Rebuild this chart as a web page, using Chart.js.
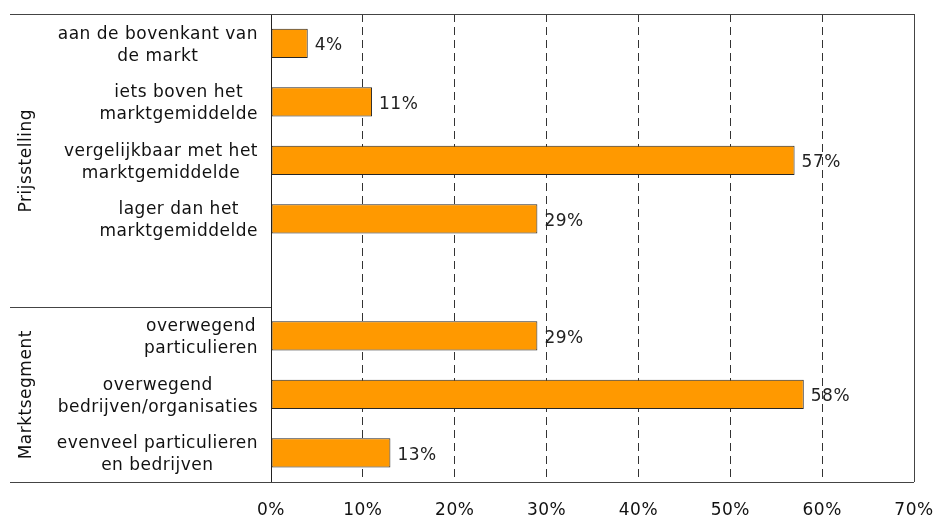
<!DOCTYPE html>
<html>
<head>
<meta charset="utf-8">
<script src="https://cdn.jsdelivr.net/npm/chart.js@4.4.1/dist/chart.umd.min.js"></script>
<style>
  html, body { margin: 0; padding: 0; background: #fff; }
  #wrap { width: 936px; height: 517px; position: relative; }
</style>
</head>
<body>
<div id="wrap"><canvas id="c"></canvas></div>
<script>
// Answer categories (each entry is one label, split into lines); '' is the spacer row between groups
const categories = [
  ['aan de bovenkant van', 'de markt'],
  ['iets boven het', 'marktgemiddelde'],
  ['vergelijkbaar met het', 'marktgemiddelde'],
  ['lager dan het', 'marktgemiddelde'],
  [''],
  ['overwegend', 'particulieren'],
  ['overwegend', 'bedrijven/organisaties'],
  ['evenveel particulieren', 'en bedrijven']
];
// Share of respondents per category (%)
const shares = [4, 11, 57, 29, null, 29, 58, 13];
// Group titles with the range of rows they cover
const groupNames = ['Prijsstelling', 'Marktsegment'];
const groupRows = [[0, 4], [5, 7]];
// Horizontal axis ticks (%)
const xTicks = [0, 10, 20, 30, 40, 50, 60, 70];

const FONT = 'DejaVu Sans, Verdana, sans-serif';
const FONT_SIZE = 17;
const SPACING = '0.5px';
const LINE = '#444';

const decorations = {
  id: 'decorations',
  beforeDraw(chart) {
    chart.ctx.letterSpacing = SPACING;
  },
  afterDraw(chart) {
    const ctx = chart.ctx;
    const a = chart.chartArea;
    const y = chart.scales.y;
    const step = y.getPixelForValue(1) - y.getPixelForValue(0);
    ctx.save();
    ctx.letterSpacing = SPACING;
    // frame lines: top, bottom (extending under the labels) and right edge
    ctx.strokeStyle = LINE;
    ctx.lineWidth = 1;
    ctx.beginPath();
    ctx.moveTo(10, Math.round(a.top) + 0.5);
    ctx.lineTo(a.right, Math.round(a.top) + 0.5);
    ctx.moveTo(10, Math.round(a.bottom) + 0.5);
    ctx.lineTo(a.right, Math.round(a.bottom) + 0.5);
    ctx.moveTo(Math.round(a.right) + 0.5, a.top);
    ctx.lineTo(Math.round(a.right) + 0.5, a.bottom);
    // separator between the two groups
    const sepY = Math.round(y.getPixelForValue(groupRows[1][0]) - step / 2) + 0.5;
    ctx.moveTo(10, sepY);
    ctx.lineTo(a.left, sepY);
    ctx.stroke();

    // category labels: block right-aligned, lines centred inside the block
    ctx.fillStyle = '#111';
    ctx.font = FONT_SIZE + 'px ' + FONT;
    ctx.textBaseline = 'middle';
    ctx.textAlign = 'center';
    const lh = 22;
    categories.forEach((lines, i) => {
      const cy = y.getPixelForValue(i) + 2;
      const w = Math.max(...lines.map(l => ctx.measureText(l).width));
      const cx = a.left - 13 - w / 2;
      lines.forEach((l, k) => {
        ctx.fillText(l, cx, cy + (k - (lines.length - 1) / 2) * lh);
      });
    });

    // rotated group titles
    const bounds = [
      [a.top, sepY],
      [sepY, a.bottom]
    ];
    groupNames.forEach((g, i) => {
      const cy = (bounds[i][0] + bounds[i][1]) / 2;
      ctx.save();
      ctx.translate(27, cy);
      ctx.rotate(-Math.PI / 2);
      ctx.textAlign = 'center';
      ctx.fillText(g, 0, 0);
      ctx.restore();
    });

    // value labels at the end of each bar
    const meta = chart.getDatasetMeta(0);
    ctx.textAlign = 'left';
    ctx.fillStyle = '#222';
    meta.data.forEach((bar, i) => {
      if (shares[i] == null) return;
      ctx.fillText(shares[i] + '%', bar.x + 7, bar.y + 2.5);
    });
    ctx.restore();
  }
};

new Chart(document.getElementById('c'), {
  type: 'bar',
  data: {
    labels: categories.map(c => c.join(' ')),
    datasets: [{
      data: shares,
      backgroundColor: '#FF9900',
      borderColor: '#262626',
      borderWidth: 1,
      borderSkipped: false,
      categoryPercentage: 1,
      barPercentage: 0.5
    }]
  },
  options: {
    indexAxis: 'y',
    responsive: true,
    maintainAspectRatio: false,
    animation: false,
    layout: { padding: { top: 14, right: 22, left: 0, bottom: 0 } },
    plugins: {
      legend: { display: false },
      tooltip: { enabled: false }
    },
    scales: {
      x: {
        min: xTicks[0],
        max: xTicks[xTicks.length - 1],
        afterBuildTicks(scale) { scale.ticks = xTicks.map(v => ({ value: v })); },
        afterFit(scale) {
          scale.height = 35;
          scale.paddingLeft = 0;
          scale.paddingRight = 0;
        },
        grid: {
          drawTicks: false,
          color: ctx => (ctx.tick && (ctx.tick.value === xTicks[0] || ctx.tick.value === xTicks[xTicks.length - 1])) ? 'rgba(0,0,0,0)' : '#333',
          lineWidth: 1
        },
        border: { display: false, dash: [8, 5] },
        ticks: {
          padding: 18,
          color: '#111',
          font: { family: FONT, size: FONT_SIZE },
          callback: v => v + '%'
        }
      },
      y: {
        afterFit(scale) { scale.width = 271; },
        grid: { display: false, drawTicks: false },
        border: { display: true, color: '#222', width: 1 },
        ticks: { display: false }
      }
    }
  },
  plugins: [decorations]
});
</script>
</body>
</html>
